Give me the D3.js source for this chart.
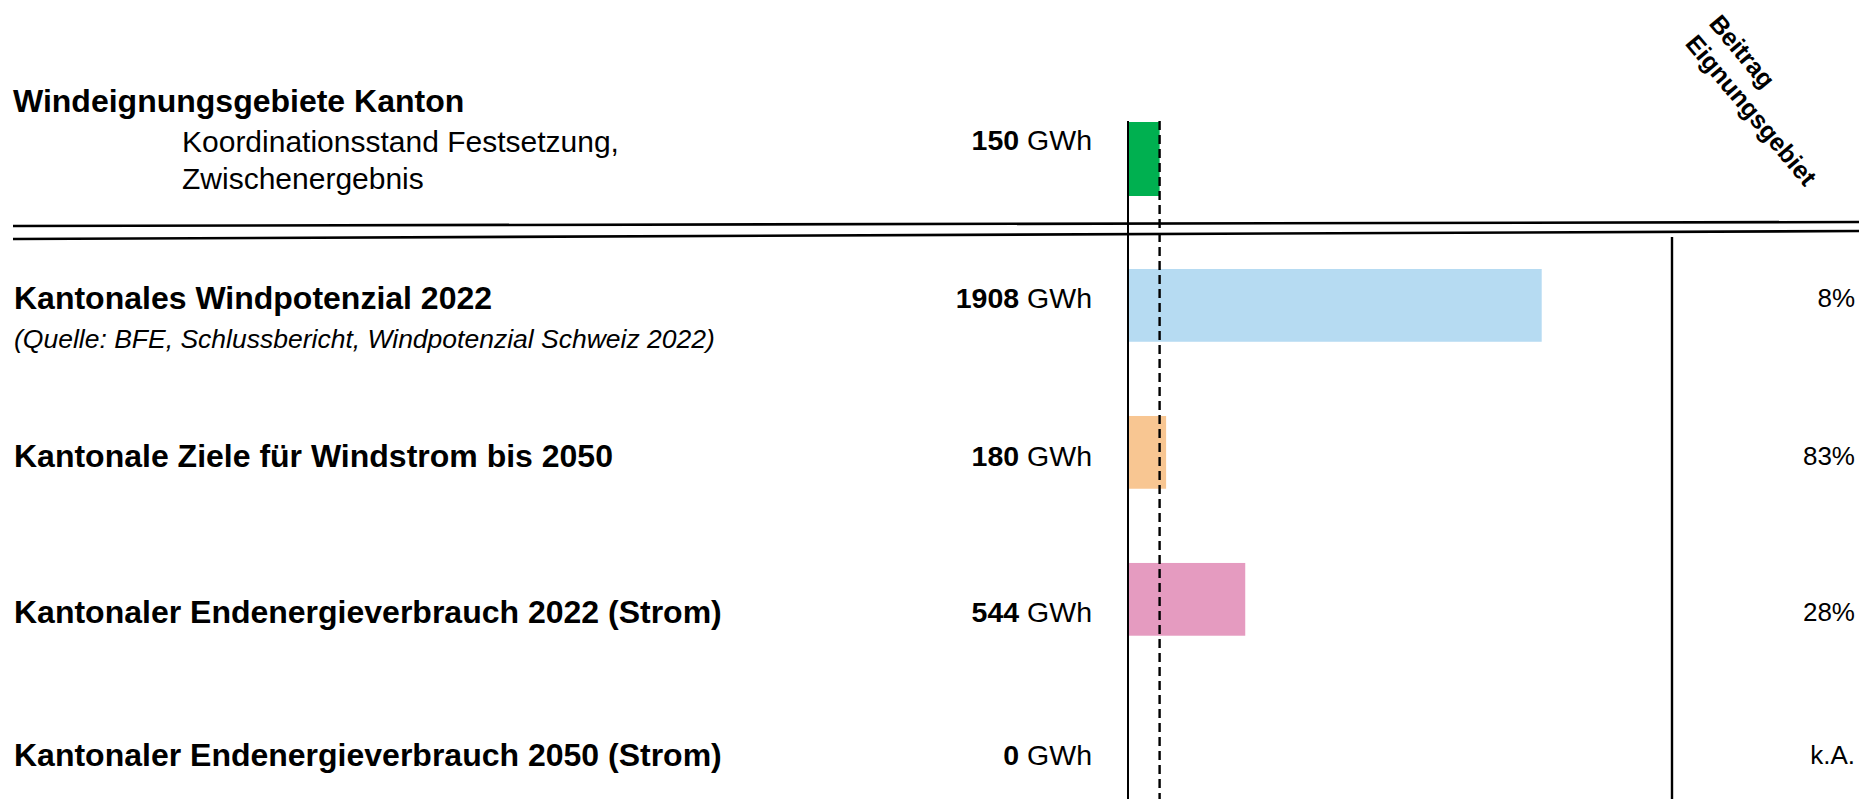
<!DOCTYPE html>
<html>
<head>
<meta charset="utf-8">
<script src="https://cdn.jsdelivr.net/npm/d3@7"></script>
<style>
    html, body { margin: 0; padding: 0; background: #fff; }
    svg { display: block; font-family: "Liberation Sans", Arial, sans-serif; }
</style>
</head>
<body>
<div id="chart"></div>
<script>
// ---- data ----
var top_label = "Windeignungsgebiete Kanton";
var top_sublabel = ["Koordinationsstand Festsetzung,", "Zwischenergebnis"];
var top_value = 150;
var top_color = "#00b050";

var categories = [
    "Kantonales Windpotenzial 2022",
    "Kantonale Ziele für Windstrom bis 2050",
    "Kantonaler Endenergieverbrauch 2022 (Strom)",
    "Kantonaler Endenergieverbrauch 2050 (Strom)"
];
var notes = ["(Quelle: BFE, Schlussbericht, Windpotenzial Schweiz 2022)", "", "", ""];
var values = [1908, 180, 544, 0];
var shares = ["8%", "83%", "28%", "k.A."];
var colors = ["#b6dbf2", "#f8c692", "#e59bc0", "#ffffff"];
var share_header = ["Beitrag", "Eignungsgebiet"];
var unit = "GWh";

// ---- layout ----
var width = 1876,
    height = 799;

// text rows sit a bit off the bar centres in the original
var row_text_nudge = [-8, 3, 12, 8];

var svg = d3.select("#chart").append("svg")
    .attr("width", width)
    .attr("height", height);

var x = d3.scaleLinear()
    .domain([0, d3.max(values)])
    .range([1127, 1541.7]);

var y = d3.scaleBand()
    .domain(categories)
    .range([269, 782.7])
    .paddingInner(0.505)
    .paddingOuter(0);

var y_top = d3.scaleBand()
    .domain([top_label])
    .range([122, 196]);

function add_text(g, txt, px, py, size, opts) {
    opts = opts || {};
    return g.append("text")
        .attr("x", px)
        .attr("y", py)
        .attr("dy", "0.358em")
        .attr("text-anchor", opts.anchor || "start")
        .style("font-size", size + "px")
        .style("font-weight", opts.weight || "normal")
        .style("font-style", opts.italic ? "italic" : "normal")
        .attr("fill", "#000")
        .text(txt);
}

function value_label(g, v, px, py) {
    var t = g.append("text")
        .attr("x", px)
        .attr("y", py)
        .attr("dy", "0.358em")
        .attr("text-anchor", "end")
        .style("font-size", "28.5px")
        .attr("fill", "#000");
    t.append("tspan").style("font-weight", "bold").text(v);
    t.append("tspan").text(" " + unit);
}

// ---- top section ----
var top_g = svg.append("g");
add_text(top_g, top_label, 13, 101, 32, {weight: "bold"});
top_sublabel.forEach(function (s, i) {
    add_text(top_g, s, 182, 141 + i * 37.5, 30);
});
value_label(top_g, top_value, 1092, 140);

top_g.append("rect")
    .attr("x", x(0))
    .attr("y", y_top(top_label))
    .attr("width", x(top_value) - x(0))
    .attr("height", y_top.bandwidth())
    .attr("fill", top_color);

// double separator
var sep = svg.append("g").attr("stroke", "#000").attr("stroke-width", 2.6);
sep.append("line").attr("x1", 13).attr("y1", 226).attr("x2", 1859).attr("y2", 222);
sep.append("line").attr("x1", 13).attr("y1", 239).attr("x2", 1859).attr("y2", 231);

// rotated header
var hdr = svg.append("g").attr("transform", "translate(1708,24) rotate(50)");
share_header.forEach(function (s, i) {
    hdr.append("text")
        .attr("x", 0)
        .attr("y", i * 31)
        .style("font-size", "25px")
        .style("font-weight", "bold")
        .text(s);
});

// ---- bars ----
var rows = svg.selectAll(".row")
    .data(categories)
    .enter().append("g")
    .attr("class", "row");

rows.append("rect")
    .attr("x", x(0))
    .attr("y", function (d) { return y(d); })
    .attr("width", function (d, i) { return x(values[i]) - x(0); })
    .attr("height", y.bandwidth())
    .attr("fill", function (d, i) { return colors[i]; });

rows.each(function (d, i) {
    var g = d3.select(this);
    var cy = y(d) + y.bandwidth() / 2 + row_text_nudge[i];
    add_text(g, d, 14, cy, 32, {weight: "bold"});
    if (notes[i]) {
        add_text(g, notes[i], 14, cy + 41, 26.5, {italic: true});
    }
    value_label(g, values[i], 1092, cy);
    add_text(g, shares[i], 1855, cy, 26, {anchor: "end"});
});

// ---- reference lines ----
svg.append("line")
    .attr("x1", x(0) + 1).attr("x2", x(0) + 1)
    .attr("y1", 121).attr("y2", height)
    .attr("stroke", "#000")
    .attr("stroke-width", 2);

svg.append("line")
    .attr("x1", x(top_value)).attr("x2", x(top_value))
    .attr("y1", 121).attr("y2", height)
    .attr("stroke", "#000")
    .attr("stroke-width", 2.4)
    .attr("stroke-dasharray", "9,5");

svg.append("line")
    .attr("x1", 1672).attr("x2", 1672)
    .attr("y1", 237).attr("y2", height)
    .attr("stroke", "#000")
    .attr("stroke-width", 2.4);
</script>
</body>
</html>
